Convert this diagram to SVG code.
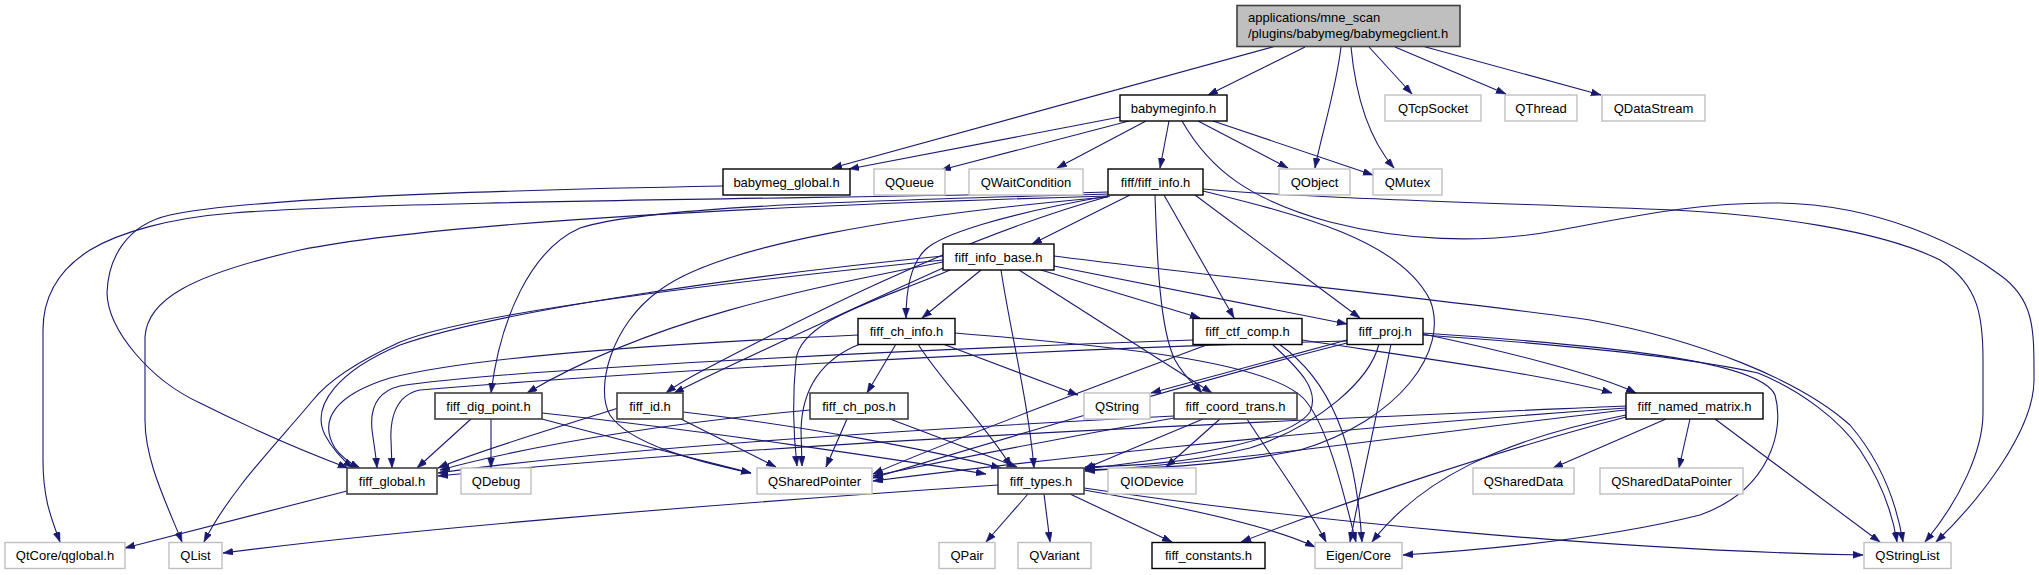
<svg xmlns="http://www.w3.org/2000/svg" width="2039" height="575" viewBox="0 0 2039 575">
<style>
text{font-family:"Liberation Sans",Arial,sans-serif;font-size:13px;fill:#000;text-anchor:middle}
.n rect{fill:#fff;stroke:#000;stroke-width:1.4}
.d rect{fill:#fff;stroke:#404040;stroke-width:1.6}
.x rect{fill:#fff;stroke:#bfbfbf;stroke-width:1.4}
.r rect{fill:#bfbfbf;stroke:#404040;stroke-width:1.6}
.r text{text-anchor:start}
#edges path{fill:none;stroke:#191970;stroke-width:1.1;marker-end:url(#a)}
</style>
<defs>
<marker id="a" markerUnits="userSpaceOnUse" markerWidth="11" markerHeight="8" refX="10" refY="3.5" orient="auto"><path d="M0,0 L10,3.5 L0,7 z" fill="#191970" stroke="#191970" stroke-width="0.5"/></marker>
</defs>
<rect width="2039" height="575" fill="#fff"/>
<g id="edges">
<path d="M1276,46 L832,168"/>
<path d="M1305,47 L1208,95"/>
<path d="M1341,47 C1336,90 1320,140 1315,168"/>
<path d="M1351,47 C1356,100 1370,140 1394,168"/>
<path d="M1369,47 L1412,94"/>
<path d="M1395,47 L1506,94"/>
<path d="M1422,46 L1601,95"/>
<path d="M1120,117 L849,169"/>
<path d="M1129,121 L941,170"/>
<path d="M1146,121 L1057,168"/>
<path d="M1169,121 L1160,168"/>
<path d="M1198,121 L1288,168"/>
<path d="M1213,121 L1373,175"/>
<path d="M1182,121 C1210,170 1250,200 1330,222 C1400,240 1480,245 1560,230 C1640,215 1700,202 1780,203 C1880,205 1960,245 2000,275 C2035,300 2034,330 2034,380 C2034,430 1980,500 1936,542"/>
<path d="M723,186 C500,190 250,198 170,215 C125,225 108,260 107,293 C108,330 150,380 200,403 C250,428 300,450 348,468"/>
<path d="M1108,192 C900,198 400,200 233,213 C170,218 120,232 90,250 C55,272 43,300 43,330 L43,460 C43,500 52,520 60,542"/>
<path d="M1108,196 C800,205 450,220 300,250 C190,275 147,300 145,337 L145,420 C145,460 165,500 182,542"/>
<path d="M1108,194 C900,200 650,205 580,228 C530,250 500,320 491,393"/>
<path d="M1110,196 C950,240 780,330 700,372 C685,380 675,386 666,393"/>
<path d="M1108,196 C1000,215 940,235 925,250 C910,265 906,290 906,318"/>
<path d="M1130,195 L1032,244"/>
<path d="M1155,195 C1157,260 1160,330 1175,360 C1185,378 1195,385 1202,393"/>
<path d="M1164,195 L1234,318"/>
<path d="M1195,195 L1360,318"/>
<path d="M1203,191 C1300,215 1400,240 1430,300 C1450,350 1400,420 1300,450 C1200,470 1120,468 1085,470"/>
<path d="M1203,189 C1300,198 1500,203 1674,210 C1770,215 1880,230 1940,260 C1980,285 1983,320 1983,360 L1983,413 C1983,450 1960,500 1925,542"/>
<path d="M1108,197 C900,215 720,245 660,290 C610,325 595,390 610,415 C630,445 700,462 751,473"/>
<path d="M981,270 L922,318"/>
<path d="M1001,270 C1010,330 1028,400 1034,468"/>
<path d="M1019,270 L1212,393"/>
<path d="M1041,270 L1200,318"/>
<path d="M1054,266 L1347,324"/>
<path d="M1054,256 C1200,275 1450,300 1590,320 C1700,340 1800,380 1850,425 C1880,460 1896,500 1903,542"/>
<path d="M943,256 C750,275 500,310 400,345 C340,370 310,405 325,435 C333,450 343,460 353,468"/>
<path d="M943,262 C800,290 650,320 527,393"/>
<path d="M943,260 C750,280 480,310 400,342 C350,365 325,385 313,400 C280,440 230,490 204,542"/>
<path d="M950,270 C880,300 800,320 796,360 C792,400 794,440 797,466"/>
<path d="M943,268 C850,310 740,360 674,393"/>
<path d="M896,344 L867,393"/>
<path d="M918,344 C940,380 990,430 1011,467"/>
<path d="M943,344 L1078,395"/>
<path d="M955,333 C1100,345 1270,360 1305,400 C1330,430 1345,500 1356,542"/>
<path d="M860,344 C820,360 802,390 801,430 L802,466"/>
<path d="M858,335 C700,342 480,355 390,378 C335,395 318,420 335,448 C342,458 350,463 360,468"/>
<path d="M1302,340 C1400,355 1550,375 1612,393"/>
<path d="M1209,344 C1100,385 950,440 873,474"/>
<path d="M1272,344 C1300,370 1320,390 1310,412 C1290,440 1200,455 1085,469"/>
<path d="M1279,344 C1330,380 1355,440 1362,542"/>
<path d="M1193,340 C900,350 500,370 400,386 C375,392 370,410 372,430 C374,445 376,456 377,468"/>
<path d="M1347,341 C1000,350 600,375 420,390 C395,395 390,420 391,440 L392,468"/>
<path d="M1423,334 C1500,350 1600,375 1636,393"/>
<path d="M1347,340 L1151,393"/>
<path d="M1423,335 C1600,347 1700,360 1758,373 C1800,390 1840,420 1860,450 C1880,480 1892,510 1897,542"/>
<path d="M1423,333 C1600,345 1760,360 1775,395 C1785,430 1770,490 1700,515 C1600,540 1480,550 1403,555"/>
<path d="M1379,344 C1370,380 1320,425 1250,448 C1180,465 1120,466 1085,467"/>
<path d="M1347,343 C1200,380 1000,440 873,478"/>
<path d="M1391,344 C1380,400 1362,480 1350,542"/>
<path d="M471,419 L417,468"/>
<path d="M491,419 L491,468"/>
<path d="M542,419 C620,440 700,460 751,473"/>
<path d="M542,413 C700,430 900,460 986,474"/>
<path d="M618,408 C550,430 480,450 438,468"/>
<path d="M681,419 L776,467"/>
<path d="M683,412 C800,425 930,450 1001,468"/>
<path d="M810,410 C700,420 550,440 440,470"/>
<path d="M847,419 L826,467"/>
<path d="M890,419 L1017,467"/>
<path d="M1174,416 C900,430 600,450 438,473"/>
<path d="M1174,418 C1050,440 950,460 873,476"/>
<path d="M1203,419 L1084,469"/>
<path d="M1220,419 L1166,467"/>
<path d="M1247,419 C1280,470 1310,510 1326,542"/>
<path d="M1666,419 L1553,468"/>
<path d="M1690,419 L1679,468"/>
<path d="M1715,419 L1880,542"/>
<path d="M1626,415 C1500,440 1420,480 1372,542"/>
<path d="M1626,417 C1500,450 1350,500 1241,542"/>
<path d="M1626,410 C1450,430 1250,460 1085,471"/>
<path d="M1626,406 C1300,420 800,440 438,476"/>
<path d="M1626,408 C1300,430 1000,465 873,481"/>
<path d="M998,485 C700,505 400,530 223,553"/>
<path d="M1028,494 L986,542"/>
<path d="M1044,494 L1050,542"/>
<path d="M1070,494 L1172,542"/>
<path d="M1084,490 C1200,510 1280,530 1315,547"/>
<path d="M1084,488 C1300,520 1600,550 1863,555"/>
<path d="M347,491 L125,548"/>
</g>
<g id="n_root" class="r"><rect x="1237" y="5.5" width="223" height="41"/><text x="1248" y="22">applications/mne_scan</text><text x="1248" y="38">/plugins/babymeg/babymegclient.h</text></g>
<g id="n_babymeginfo" class="n"><rect x="1120" y="95" width="107" height="26"/><text x="1173.5" y="112.5">babymeginfo.h</text></g>
<g id="n_qtcpsocket" class="x"><rect x="1385" y="95" width="96" height="26"/><text x="1433" y="112.5">QTcpSocket</text></g>
<g id="n_qthread" class="x"><rect x="1505" y="95" width="72" height="26"/><text x="1541" y="112.5">QThread</text></g>
<g id="n_qdatastream" class="x"><rect x="1602" y="95" width="103" height="26"/><text x="1653.5" y="112.5">QDataStream</text></g>
<g id="n_babymeg_global" class="n"><rect x="723" y="169" width="127" height="26"/><text x="786.5" y="186.5">babymeg_global.h</text></g>
<g id="n_qqueue" class="x"><rect x="874" y="169" width="71" height="26"/><text x="909.5" y="186.5">QQueue</text></g>
<g id="n_qwaitcondition" class="x"><rect x="969" y="169" width="114" height="26"/><text x="1026" y="186.5">QWaitCondition</text></g>
<g id="n_fiff_info" class="n"><rect x="1108" y="169" width="95" height="26"/><text x="1155.5" y="186.5">fiff/fiff_info.h</text></g>
<g id="n_qobject" class="x"><rect x="1279" y="169" width="71" height="26"/><text x="1314.5" y="186.5">QObject</text></g>
<g id="n_qmutex" class="x"><rect x="1373" y="169" width="69" height="26"/><text x="1407.5" y="186.5">QMutex</text></g>
<g id="n_fiff_info_base" class="n"><rect x="943" y="244" width="111" height="26"/><text x="998.5" y="261.5">fiff_info_base.h</text></g>
<g id="n_fiff_ch_info" class="n"><rect x="858" y="318.5" width="97" height="26"/><text x="906.5" y="336">fiff_ch_info.h</text></g>
<g id="n_fiff_ctf_comp" class="n"><rect x="1193" y="318.5" width="109" height="26"/><text x="1247.5" y="336">fiff_ctf_comp.h</text></g>
<g id="n_fiff_proj" class="n"><rect x="1347" y="318.5" width="76" height="26"/><text x="1385" y="336">fiff_proj.h</text></g>
<g id="n_fiff_dig_point" class="d"><rect x="435" y="393" width="107" height="26"/><text x="488.5" y="410.5">fiff_dig_point.h</text></g>
<g id="n_fiff_id" class="d"><rect x="617" y="393" width="66" height="26"/><text x="650" y="410.5">fiff_id.h</text></g>
<g id="n_fiff_ch_pos" class="d"><rect x="810" y="393" width="98" height="26"/><text x="859" y="410.5">fiff_ch_pos.h</text></g>
<g id="n_qstring" class="x"><rect x="1084" y="393" width="66" height="26"/><text x="1117" y="410.5">QString</text></g>
<g id="n_fiff_coord_trans" class="d"><rect x="1174" y="393" width="123" height="26"/><text x="1235.5" y="410.5">fiff_coord_trans.h</text></g>
<g id="n_fiff_named_matrix" class="n"><rect x="1626" y="393" width="137" height="26"/><text x="1694.5" y="410.5">fiff_named_matrix.h</text></g>
<g id="n_fiff_global" class="d"><rect x="347" y="468" width="90" height="26"/><text x="392" y="485.5">fiff_global.h</text></g>
<g id="n_qdebug" class="x"><rect x="461" y="468" width="70" height="26"/><text x="496" y="485.5">QDebug</text></g>
<g id="n_qsharedpointer" class="x"><rect x="757" y="468" width="115" height="26"/><text x="814.5" y="485.5">QSharedPointer</text></g>
<g id="n_fiff_types" class="d"><rect x="998" y="468" width="86" height="26"/><text x="1041" y="485.5">fiff_types.h</text></g>
<g id="n_qiodevice" class="x"><rect x="1108" y="468" width="88" height="26"/><text x="1152" y="485.5">QIODevice</text></g>
<g id="n_qshareddata" class="x"><rect x="1473" y="468" width="101" height="26"/><text x="1523.5" y="485.5">QSharedData</text></g>
<g id="n_qshareddatapointer" class="x"><rect x="1600" y="468" width="143" height="26"/><text x="1671.5" y="485.5">QSharedDataPointer</text></g>
<g id="n_qglobal" class="x"><rect x="5" y="542.5" width="120" height="26"/><text x="65" y="560">QtCore/qglobal.h</text></g>
<g id="n_qlist" class="x"><rect x="169" y="542.5" width="53" height="26"/><text x="195.5" y="560">QList</text></g>
<g id="n_qpair" class="x"><rect x="939" y="542.5" width="56" height="26"/><text x="967" y="560">QPair</text></g>
<g id="n_qvariant" class="x"><rect x="1018" y="542.5" width="73" height="26"/><text x="1054.5" y="560">QVariant</text></g>
<g id="n_fiff_constants" class="n"><rect x="1152" y="542.5" width="113" height="26"/><text x="1208.5" y="560">fiff_constants.h</text></g>
<g id="n_eigen_core" class="x"><rect x="1315" y="542.5" width="87" height="26"/><text x="1358.5" y="560">Eigen/Core</text></g>
<g id="n_qstringlist" class="x"><rect x="1864" y="542.5" width="87" height="26"/><text x="1907.5" y="560">QStringList</text></g>
</svg>
